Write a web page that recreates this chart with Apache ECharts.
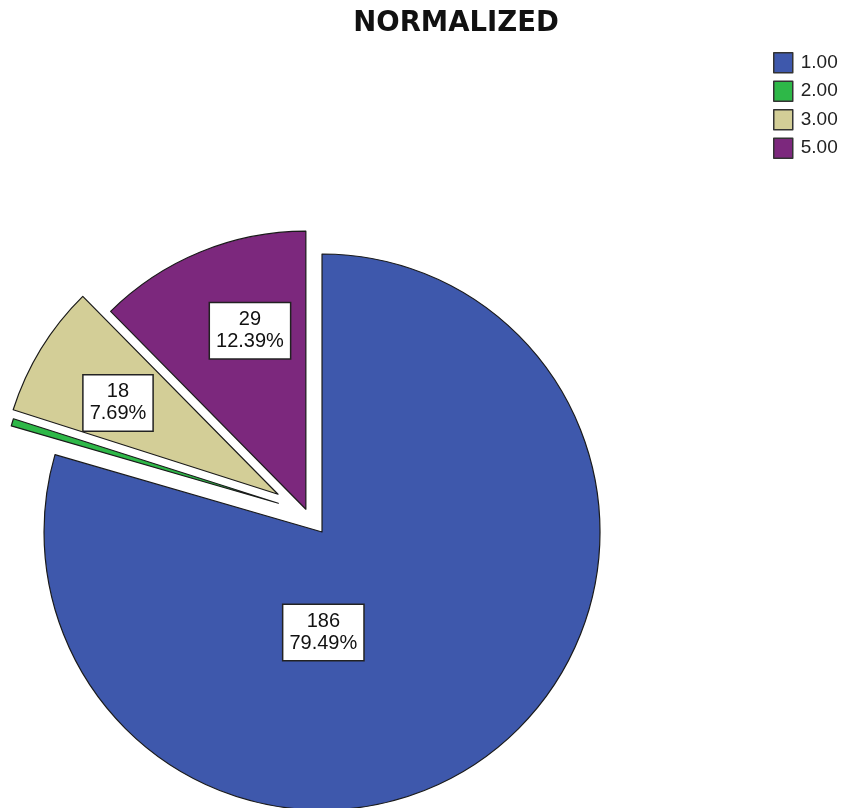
<!DOCTYPE html>
<html>
<head>
<meta charset="utf-8">
<title>NORMALIZED</title>
<script src="https://cdn.jsdelivr.net/npm/echarts@6/dist/echarts.min.js"></script>
<style>
  html, body { margin: 0; padding: 0; background: #ffffff; }
  #chart { width: 845px; height: 808px; }
</style>
</head>
<body>
<div id="chart"></div>
<script>
// Category labels and their counts
const categories = ['1.00', '2.00', '3.00', '5.00'];
const counts = [186, 1, 18, 29];
const showLabel = [true, false, true, true];

// Slice fill colours
const colors = ['#3E58AC', '#2EB848', '#D3CE97', '#7C287D'];

// Exploded distance of every slice from the pie centre
const explode = [25, 30, 34, 3];
// Nudges for the boxed value labels, relative to the default inside spot
const labelNudge = [[-84, -13], [0, 0], [-39, -17], [-2, -47]];

const chart = echarts.init(document.getElementById('chart'), null, { renderer: 'canvas' });

const labelBox = {
  show: true,
  position: 'inside',
  formatter: '{c}\n{d}%',
  color: '#111',
  fontFamily: 'Liberation Sans, Arial, sans-serif',
  fontSize: 20,
  lineHeight: 22,
  align: 'center',
  backgroundColor: '#ffffff',
  borderColor: '#222',
  borderWidth: 1.5,
  padding: [6, 6, 5, 6]
};

// One pie layer per slice so that each slice carries its own explode distance;
// all layers share the same values, so the angles are identical.
const series = categories.map((cat, i) => ({
  type: 'pie',
  center: [307, 512],
  radius: 278,
  startAngle: 90,
  clockwise: true,
  silent: true,
  animation: false,
  avoidLabelOverlap: false,
  selectedMode: 'single',
  selectedOffset: explode[i],
  labelLine: { show: false },
  labelLayout: function (p) {
    const n = labelNudge[p.dataIndex];
    return { dx: n[0], dy: n[1] };
  },
  emphasis: { disabled: true },
  data: categories.map((name, j) => {
    const own = j === i;
    return {
      name: name,
      value: counts[j],
      selected: own,
      itemStyle: own
        ? { color: colors[j], borderColor: '#1a1a1a', borderWidth: 1.2 }
        : { color: 'rgba(0,0,0,0)', borderWidth: 0 },
      label: own && showLabel[j] ? labelBox : { show: false }
    };
  })
}));

chart.setOption({
  backgroundColor: '#ffffff',
  title: {
    text: 'NORMALIZED',
    left: 451,
    textAlign: 'center',
    top: 5,
    textStyle: {
      fontFamily: 'DejaVu Sans, sans-serif',
      fontWeight: 'bold',
      fontSize: 27.5,
      color: '#111'
    }
  },
  legend: {
    orient: 'vertical',
    left: 773,
    top: 52,
    padding: 0,
    itemWidth: 19,
    itemHeight: 20,
    itemGap: 7,
    icon: 'rect',
    selectedMode: false,
    textStyle: {
      fontFamily: 'Liberation Sans, Arial, sans-serif',
      fontSize: 19,
      color: '#222',
      padding: [0, 0, 0, 3]
    },
    data: categories.map((name, j) => ({
      name: name,
      itemStyle: { color: colors[j], borderColor: '#333', borderWidth: 1.5 }
    }))
  },
  series: series
});
</script>
</body>
</html>
